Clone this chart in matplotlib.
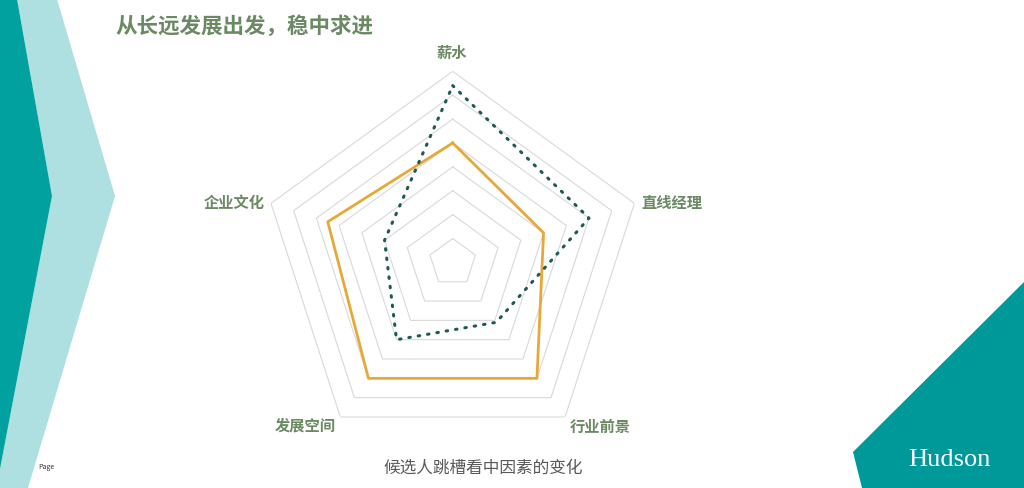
import numpy as np
import matplotlib
matplotlib.use('Agg')
import matplotlib.pyplot as plt
from matplotlib.patches import Polygon

plt.rcParams['font.family'] = ['Noto Sans CJK SC', 'DejaVu Sans']

# 雷达图数据
categories = ['薪水', '直线经理', '行业前景', '发展空间', '企业文化']
orange_vals = [5, 4, 6, 6, 5.5]
dotted_vals = [7.4, 6, 3.1, 4, 3]
levels = [1, 2, 3, 4, 5, 6, 7, 8]

title = '从长远发展出发，稳中求进'
caption = '候选人跳槽看中因素的变化'

W, H = 1024, 489
fig = plt.figure(figsize=(W / 100, H / 100), dpi=100)
fig.patch.set_facecolor('white')

# 背景装饰
bg = fig.add_axes([0, 0, 1, 1])
bg.set_xlim(0, W)
bg.set_ylim(H, 0)
bg.axis('off')
bg.add_patch(Polygon([(17, 0), (57, 0), (115, 197), (28, 489), (0, 489), (0, 470),
                      (52, 197)], closed=True, color='#AEE0E2', lw=0))
bg.add_patch(Polygon([(0, 0), (17, 0), (52, 197), (0, 470)], closed=True,
                     color='#00A19E', lw=0))
bg.add_patch(Polygon([(1024, 283), (1024, 489), (862, 489), (853, 453)], closed=True,
                     color='#00999A', lw=0))
bg.text(949, 460, 'Hudson', color='white', fontsize=19, ha='center', va='center',
        family=['Liberation Serif', 'DejaVu Serif'])
bg.text(38, 467, 'Page', fontsize=5, color='#333333', va='center')
bg.text(115, 26, title, fontsize=15.5, fontweight='bold', color='#6B8A63', va='center')
bg.text(483, 468, caption, fontsize=12, color='#595959', ha='center', va='center')

# 坐标轴标签位置（像素）
label_xy = [(452, 53), (672, 203), (600, 427), (305, 426), (234, 203)]
for (lx, ly), c in zip(label_xy, categories):
    bg.text(lx, ly, c, fontsize=11, fontweight='bold', color='#6B8A63',
            ha='center', va='center')

# 雷达图
cx, cy, R = 452.7, 263.4, 191.1
ax = fig.add_axes([(cx - R) / W, 1 - (cy + R) / H, 2 * R / W, 2 * R / H], polar=True)
ax.set_theta_offset(np.pi / 2)
ax.set_theta_direction(-1)
ax.set_ylim(0, 8)
ax.axis('off')

n = len(categories)
ang = np.linspace(0, 2 * np.pi, n, endpoint=False)
ang_c = np.append(ang, ang[0])

for lv in levels:
    ax.plot(ang_c, [lv] * (n + 1), color='#D9D9D9', lw=0.8, zorder=1)

ov = orange_vals + orange_vals[:1]
dv = dotted_vals + dotted_vals[:1]
ax.plot(ang_c, ov, color='#E8A838', lw=2, zorder=3)
ax.plot(ang_c, dv, color='#1D5A55', lw=2.2, linestyle=(0, (0.5, 2.6)),
        dash_capstyle='round', zorder=4)

fig.savefig('out.png', dpi=100)
